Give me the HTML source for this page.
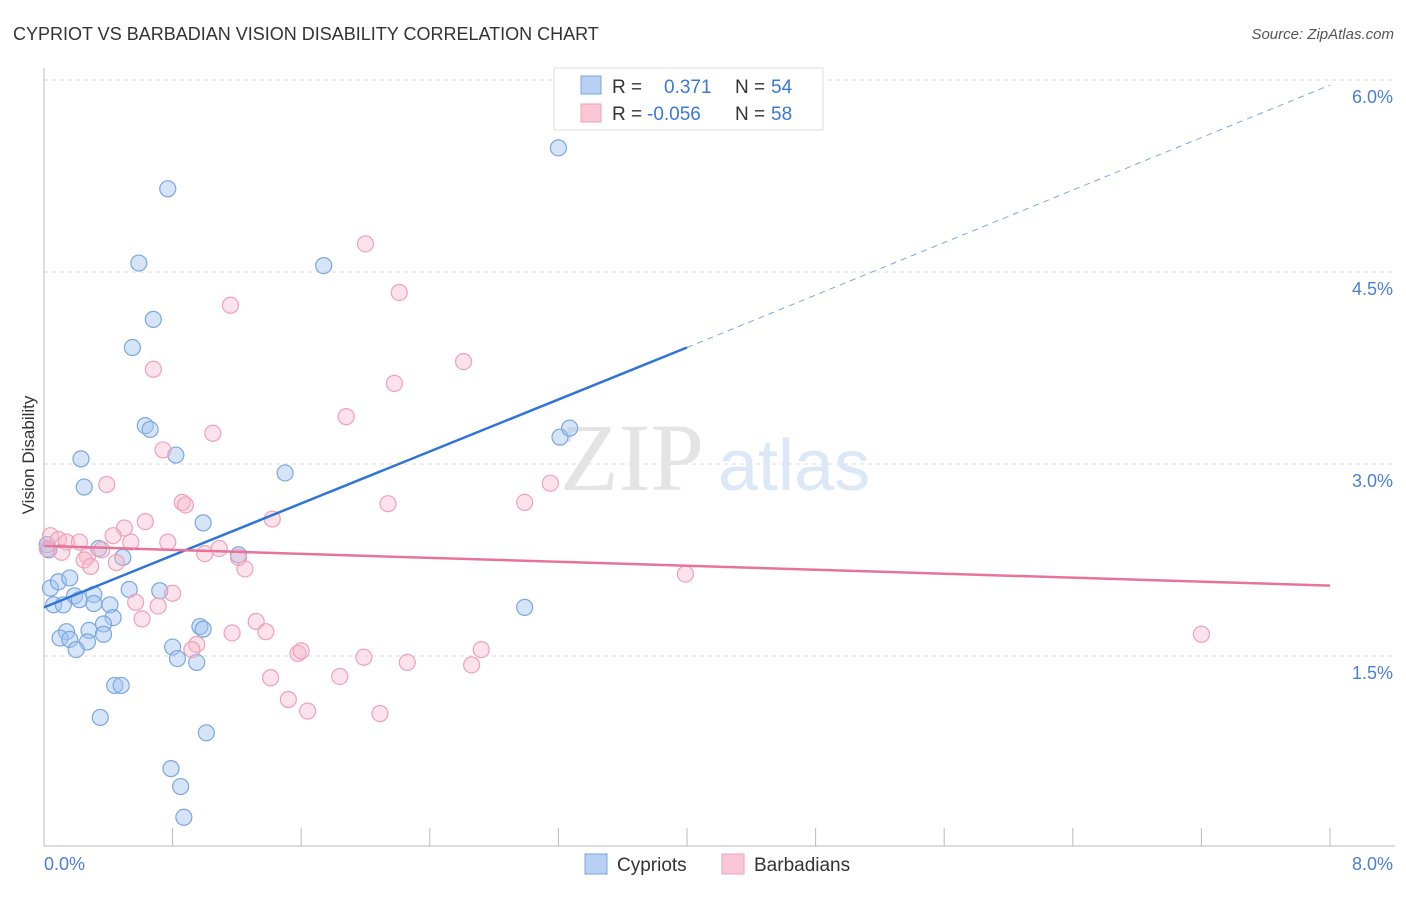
<!DOCTYPE html>
<html><head><meta charset="utf-8"><style>
body{margin:0;background:#fff;font-family:"Liberation Sans",sans-serif}
</style></head><body>
<svg width="1406" height="892" xmlns="http://www.w3.org/2000/svg" font-family="Liberation Sans, sans-serif">
<text x="13" y="40" font-size="18" fill="#333">CYPRIOT VS BARBADIAN VISION DISABILITY CORRELATION CHART</text>
<text x="1394" y="39" font-size="15" fill="#555" text-anchor="end" font-style="italic">Source: ZipAtlas.com</text>
<g id="grid"></g>
<text x="560" y="490" font-size="96" fill="#e4e4e4" font-family="Liberation Serif, serif">ZIP</text>
<text x="718" y="490" font-size="72" fill="#dce8f6">atlas</text>
<line x1="44" y1="68" x2="44" y2="846" stroke="#bbb"/>
<line x1="44" y1="846" x2="1395" y2="846" stroke="#bbb"/>
<g id="xt"></g>
<text x="44" y="870" font-size="18" fill="#4a7fd4">0.0%</text>
<text x="1393" y="870" font-size="18" fill="#4a7fd4" text-anchor="end">8.0%</text>
<text x="34" y="455" font-size="17" fill="#333" text-anchor="middle" transform="rotate(-90 34 455)">Vision Disability</text>
<g id="pts"></g>
<g id="lines"></g>
<g>
<rect x="554" y="68" width="269" height="62" fill="#fff" stroke="#ddd"/>
<rect x="581" y="76" width="20" height="18" fill="#b7d0f3" stroke="#7aa7e0"/>
<rect x="581" y="104" width="20" height="18" fill="#f9c6d5" stroke="#f0a0b8"/>
<text x="612" y="93" font-size="19" fill="#333">R =</text><text x="664" y="93" font-size="19" fill="#3a78d8">0.371</text>
<text x="735" y="93" font-size="19" fill="#333">N =</text><text x="771" y="93" font-size="19" fill="#3a78d8">54</text>
<text x="612" y="120" font-size="19" fill="#333">R =</text><text x="647" y="120" font-size="19" fill="#3a78d8">-0.056</text>
<text x="735" y="120" font-size="19" fill="#333">N =</text><text x="771" y="120" font-size="19" fill="#3a78d8">58</text>
</g>
<g>
<rect x="585" y="854" width="22" height="20" fill="#b7d0f3" stroke="#7aa7e0"/>
<text x="617" y="871" font-size="19" fill="#333">Cypriots</text>
<rect x="722" y="854" width="22" height="20" fill="#f9c6d5" stroke="#f0a0b8"/>
<text x="754" y="871" font-size="19" fill="#333">Barbadians</text>
</g>
</svg>
<script>
const yTicks=[1.5,3.0,4.5,6.0];
const yTickLabels=["1.5%","3.0%","4.5%","6.0%"];
const xTicks=[0,0.8,1.6,2.4,3.2,4.0,4.8,5.6,6.4,7.2,8.0];
const cypX=[3.20,0.77,0.59,1.74,0.68,0.55,0.63,0.66,3.21,3.27,0.23,0.82,0.25,1.50,0.99,0.02,0.34,0.49,1.21,0.04,0.09,0.16,0.53,0.72,0.19,0.31,0.41,0.22,0.06,0.12,0.31,0.43,2.99,0.37,0.28,0.37,0.14,0.10,0.16,0.27,0.20,0.97,0.99,0.80,0.83,0.95,0.44,0.48,0.35,1.01,0.79,0.85,0.87,0.03];
const cypY=[5.47,5.15,4.57,4.55,4.13,3.91,3.30,3.27,3.21,3.28,3.04,3.07,2.82,2.93,2.54,2.37,2.34,2.27,2.29,2.03,2.08,2.11,2.02,2.01,1.97,1.98,1.90,1.94,1.90,1.90,1.91,1.80,1.88,1.75,1.70,1.67,1.69,1.64,1.63,1.61,1.55,1.73,1.71,1.57,1.48,1.45,1.27,1.27,1.02,0.90,0.62,0.48,0.24,2.33];
const barX=[2.00,2.21,1.16,2.61,0.68,2.18,1.88,1.05,0.74,0.39,3.15,0.86,0.88,2.14,2.99,0.63,1.42,0.50,0.43,0.77,0.54,0.04,0.09,0.14,0.22,1.09,0.02,0.11,0.27,0.36,1.00,0.25,0.45,0.29,1.21,1.25,3.99,0.80,0.57,0.71,0.61,1.32,1.17,1.38,0.95,0.92,1.58,1.60,2.72,1.99,7.20,2.26,2.66,1.41,1.84,1.52,1.64,2.09];
const barY=[4.72,4.34,4.24,3.80,3.74,3.63,3.37,3.24,3.11,2.84,2.85,2.70,2.68,2.69,2.70,2.55,2.57,2.50,2.44,2.39,2.39,2.44,2.41,2.39,2.39,2.34,2.34,2.31,2.28,2.33,2.30,2.25,2.23,2.20,2.27,2.18,2.14,1.99,1.92,1.89,1.79,1.77,1.68,1.69,1.59,1.55,1.52,1.54,1.55,1.49,1.67,1.45,1.43,1.33,1.34,1.16,1.07,1.05];
const cypTrend=[0,1.88,4.0,3.91,8.0,5.96];
const barTrend=[0,2.36,8.0,2.05];
const NS="http://www.w3.org/2000/svg";
const X=v=>44+v*160.75, Y=v=>848-v*128;
function mk(t,a,p){const e=document.createElementNS(NS,t);for(const k in a)e.setAttribute(k,a[k]);document.getElementById(p).appendChild(e);return e;}
yTicks.forEach((v,i)=>{
 const l=mk('line',{x1:44,x2:1395,y1:Y(v),y2:Y(v),stroke:'#ddd','stroke-dasharray':'4,4'},'grid');
 
 
 const t=mk('text',{x:1393,y:Y(v)+23,'font-size':18,fill:'#4a7fd4','text-anchor':'end'},'grid');
 t.textContent=yTickLabels[i];
 
 
});
xTicks.forEach(v=>{
 const l=mk('line',{x1:X(v),x2:X(v),y1:828,y2:846,stroke:'#bbb'},'xt');
 
 
});
cypX.forEach((x,i)=>{
 const c=mk('circle',{cx:X(x),cy:Y(cypY[i]),r:8,fill:'rgba(163,196,240,0.45)',stroke:'#7aa7e0','stroke-width':1.2},'pts');
 
 
});
barX.forEach((x,i)=>{
 const c=mk('circle',{cx:X(x),cy:Y(barY[i]),r:8,fill:'rgba(247,182,202,0.4)',stroke:'#f0a0b8','stroke-width':1.2},'pts');
 
 
});
let a=mk('line',{x1:X(cypTrend[0]),y1:Y(cypTrend[1]),x2:X(cypTrend[2]),y2:Y(cypTrend[3]),stroke:'#2f74d8','stroke-width':2.5},'lines');


let b=mk('line',{x1:X(cypTrend[2]),y1:Y(cypTrend[3]),x2:X(cypTrend[4]),y2:Y(cypTrend[5]),stroke:'#7aa7e0','stroke-width':1,'stroke-dasharray':'6,5'},'lines');


let p=mk('line',{x1:X(barTrend[0]),y1:Y(barTrend[1]),x2:X(barTrend[2]),y2:Y(barTrend[3]),stroke:'#e8739a','stroke-width':2.5},'lines');


</script>
</body></html>
